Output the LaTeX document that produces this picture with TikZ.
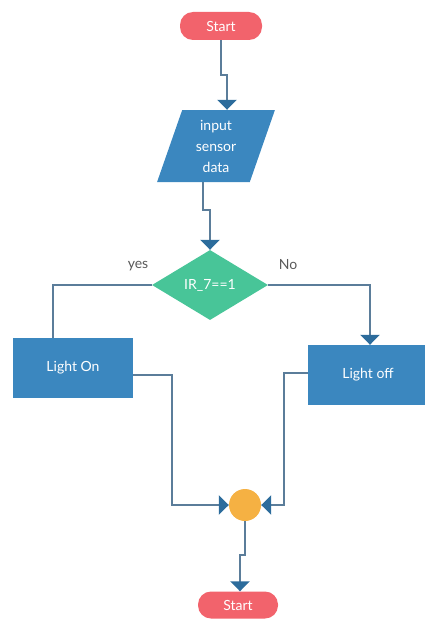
\documentclass[tikz,border=0pt]{standalone}
\usepackage{fontspec}
\setmainfont{Lato}
\usetikzlibrary{arrows.meta,positioning,shapes.geometric}
\definecolor{termred}{HTML}{F2636C}
\definecolor{boxblue}{HTML}{3B87BF}
\definecolor{decgreen}{HTML}{48C598}
\definecolor{joinorange}{HTML}{F5B143}
\definecolor{linegray}{HTML}{5B7D9A}
\definecolor{tipblue}{HTML}{2C6C9C}

\begin{document}
\begin{tikzpicture}[
  x=1pt, y=-1pt,
  font=\fontsize{14}{21}\selectfont,
  term/.style={draw=none, fill=termred, text=white, rounded corners=13pt, minimum width=82pt, minimum height=28pt, inner sep=0pt},
  io/.style={trapezium, trapezium stretches=true, trapezium left angle=74, trapezium right angle=106, fill=boxblue, text=white, align=center, minimum width=118pt, minimum height=72pt, inner sep=0pt},
  decide/.style={diamond, aspect=1.66, fill=decgreen, text=white, minimum width=116pt, minimum height=70pt, inner sep=0pt},
  proc/.style={fill=boxblue, text=white, minimum width=120pt, minimum height=60pt, inner sep=0pt},
  joint/.style={circle, fill=joinorange, minimum size=32pt, inner sep=0pt},
  conn/.style={draw=linegray, line width=2.4pt},
  arr/.style={-{Triangle[width=19pt, length=10pt, color=tipblue]}},
  lbl/.style={text=black!65}
]
\useasboundingbox (0,0) rectangle (424,626);

\node[term] (start) at (221,26) {Start};
\node[io] (input) at (216,146) {input\\sensor\\data};
\node[decide] (dec) at (210,285) {IR\_7==1};
\node[proc] (lon) at (73,368) {Light On};
\node[proc] (loff) at (368,375) {Light off};
\node[joint] (join) at (245,505) {};
\node[term, minimum width=80pt, minimum height=27pt] (stop) at (238,605) {Start};

\node[lbl] (yes) at (138,266) {yes};
\node[lbl] (no) at (288,265) {No};

% main flow
\draw[conn, arr] (start.south) -- ++(0,35) -| ([xshift=11pt]input.north);
\draw[conn, arr] ([xshift=-13pt]input.south) -- ++(0,28) -| (dec.north);
\draw[conn] (dec.west) -| ([xshift=-20pt]lon.north);
\draw[conn, arr] (dec.east) -| ([xshift=2pt]loff.north);

% merge
\draw[conn, arr] ([yshift=-7pt]lon.east) -- ++(39,0) |- (join.west);
\draw[conn, arr] ([yshift=2pt]loff.west) -- ++(-24,0) |- (join.east);
\draw[conn, arr] (join.south) -- ++(0,34) -| ([xshift=2pt]stop.north);

\end{tikzpicture}
\end{document}
